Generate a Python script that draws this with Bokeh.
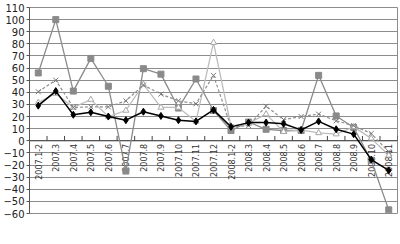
import math
from bokeh.plotting import figure
from bokeh.models import (Range1d, FixedTicker, Legend, LegendItem, ColumnDataSource)
from bokeh.core.properties import value
from bokeh.embed import file_html
from bokeh.resources import INLINE

cats = ["2007.1-2", "2007.3", "2007.4", "2007.5", "2007.6", "2007.7", "2007.8",
        "2007.9", "2007.10", "2007.11", "2007.12", "2008.1-2", "2008.3", "2008.4",
        "2008.5", "2008.6", "2008.7", "2008.8", "2008.9", "2008.10", "2008.11"]

ferrous = [29, 41, 21.5, 23.5, 20, 17, 24, 20.5, 17, 16, 25.5,
           11.5, 15, 15, 14, 9, 16, 9.5, 5.5, -15.5, -24.5]
ferroalloy = [56, 100, 41, 68, 45, -25, 59.5, 55, 27, 51, 25,
              8.5, 15.5, 9.5, 8.5, 8.5, 54, 20.5, 11, -16, -57]
nonferrous = [31.5, 39, 27.5, 34, 20, 25, 46.5, 27.5, 27.5, 16, 81,
              12, 14.5, 22, 7.5, 9, 6.5, 5.5, 11.5, 2, -12]
aluminium = [40.5, 50, 27.5, 28, 28, 33, 46, 38.5, 33, 30.5, 54,
             11.5, 12.5, 28.5, 17.5, 20, 22, 16.5, 12.5, 6, -9]

names = ["14. 黑色金属冶炼及压延加工业", "其中：铁合金冶炼",
         "15. 有色金属冶炼及压延加工业", "其中：铝冶炼"]

y_ticks = list(range(-60, 111, 10))

FONT = "Noto Sans CJK SC"

n = len(cats)
xs = [i + 0.5 for i in range(n)]

p = figure(frame_width=368, frame_height=206, x_range=Range1d(0, n),
           y_range=Range1d(-60, 110), output_backend="svg", toolbar_location=None,
           min_border_left=29, min_border_right=3, min_border_top=7, min_border_bottom=0)

p.outline_line_color = "#8c8c8c"
p.xgrid.visible = False
p.xaxis.visible = False
p.ygrid.grid_line_color = "#8c8c8c"
p.ygrid.grid_line_width = 1
p.ygrid.ticker = FixedTicker(ticks=y_ticks)

# y axis
p.yaxis.ticker = FixedTicker(ticks=y_ticks)
p.yaxis.major_label_text_font = "DejaVu Sans"
p.yaxis.major_label_text_font_size = "10px"
p.yaxis.major_label_text_color = "#222222"
p.yaxis.axis_line_color = "#555555"
p.yaxis.major_tick_line_color = "#555555"
p.yaxis.major_tick_in = 0
p.yaxis.major_tick_out = 3
p.yaxis.minor_tick_line_color = None
p.yaxis.major_label_standoff = 2

# category axis drawn at y = 0
p.segment(x0=0, y0=0, x1=n, y1=0, line_color="#444444", line_width=1)
bounds = list(range(n + 1))
p.segment(x0=bounds, y0=[0] * (n + 1), x1=bounds, y1=[4] * (n + 1),
          line_color="#444444", line_width=1)
p.text(x=xs, y=[0] * n, text=cats, angle=math.pi / 2, y_offset=3,
       text_align="right", text_baseline="middle",
       text_font=value("DejaVu Sans"), text_font_size="8px", text_color="#333333")

src = ColumnDataSource(dict(x=xs, a=ferrous, b=ferroalloy, c=nonferrous, d=aluminium))

l2 = p.line("x", "b", source=src, line_color="#8a8a8a", line_width=1.3)
m2 = p.scatter("x", "b", source=src, marker="square", size=6,
               fill_color="#8a8a8a", line_color="#8a8a8a")
l3 = p.line("x", "c", source=src, line_color="#bdbdbd", line_width=1.3)
m3 = p.scatter("x", "c", source=src, marker="triangle", size=6,
               fill_color="white", line_color="#a8a8a8")
l4 = p.line("x", "d", source=src, line_color="#8f8f8f", line_width=1.2, line_dash="3 2")
m4 = p.scatter("x", "d", source=src, marker="x", size=7, line_color="#777777", line_width=1)
l1 = p.line("x", "a", source=src, line_color="#000000", line_width=1.5)
m1 = p.scatter("x", "a", source=src, marker="diamond", size=7,
               fill_color="#000000", line_color="#000000")


def make_legend(items):
    lg = Legend(items=items, orientation="horizontal", location="top_center")
    lg.label_text_font = FONT
    lg.label_text_font_size = "10.5px"
    lg.label_text_color = "#222222"
    lg.glyph_width = 22
    lg.glyph_height = 12
    lg.label_height = 12
    lg.label_standoff = 2
    lg.spacing = 3
    lg.padding = 0
    lg.margin = 0
    lg.border_line_color = None
    lg.background_fill_alpha = 0
    return lg


leg1 = make_legend([LegendItem(label=names[0], renderers=[l1, m1]),
                    LegendItem(label=names[1], renderers=[l2, m2])])
leg2 = make_legend([LegendItem(label=names[2], renderers=[l3, m3]),
                    LegendItem(label=names[3], renderers=[l4, m4])])
p.add_layout(leg1, "below")
p.add_layout(leg2, "below")

open("out.html", "w").write(file_html(p, INLINE))
